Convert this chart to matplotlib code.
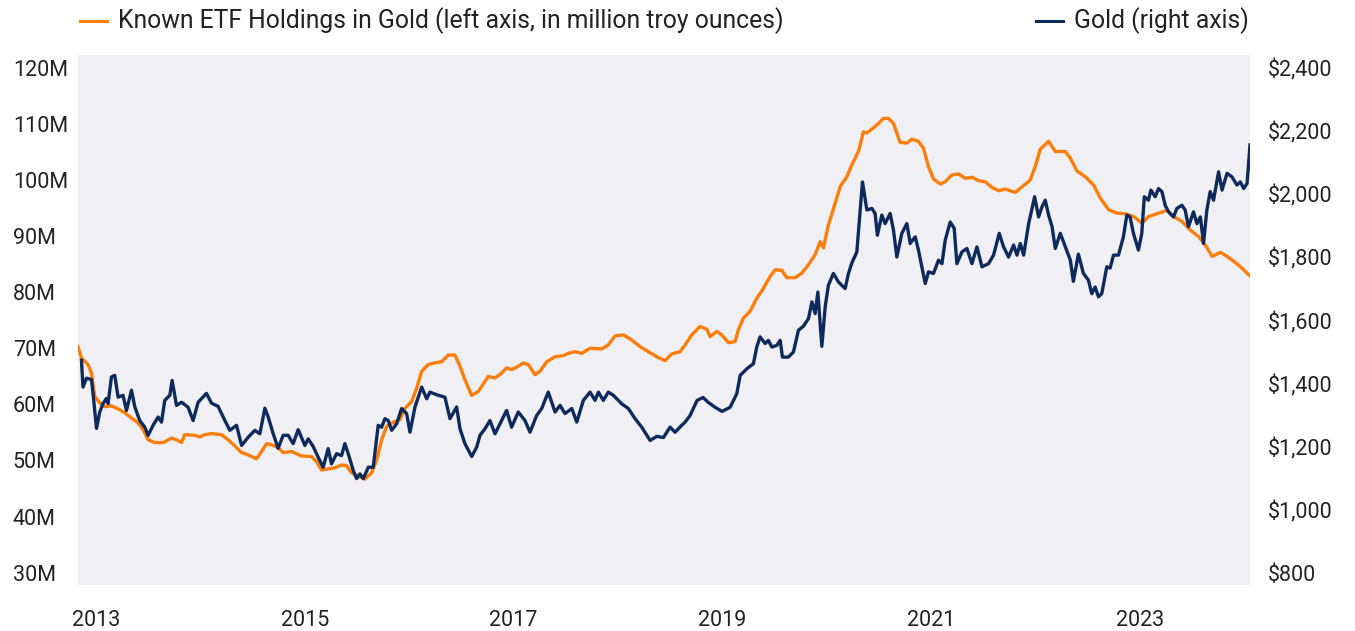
import matplotlib
matplotlib.use("Agg")
import matplotlib.pyplot as plt
from matplotlib.lines import Line2D

plt.rcParams['font.family'] = ['Roboto', 'DejaVu Sans']

# ETF holdings in gold, million troy ounces (left axis), x in years
etf_year = [2012.83, 2012.863, 2012.926, 2012.959, 2012.990, 2013.038, 2013.086, 2013.150, 2013.214,
            2013.278, 2013.342, 2013.405, 2013.453, 2013.501, 2013.565, 2013.645, 2013.725, 2013.773,
            2013.821, 2013.852, 2013.948, 2013.996, 2014.044, 2014.108, 2014.204, 2014.267, 2014.331,
            2014.396, 2014.459, 2014.539, 2014.587, 2014.635, 2014.683, 2014.746, 2014.794, 2014.875,
            2014.970, 2015.066, 2015.114, 2015.162, 2015.225, 2015.289, 2015.353, 2015.401, 2015.449,
            2015.512, 2015.577, 2015.641, 2015.689, 2015.737, 2015.785, 2015.848, 2015.912, 2015.960,
            2016.024, 2016.072, 2016.120, 2016.183, 2016.247, 2016.311, 2016.375, 2016.439, 2016.487,
            2016.534, 2016.599, 2016.662, 2016.758, 2016.822, 2016.886, 2016.933, 2016.981, 2017.045,
            2017.093, 2017.141, 2017.205, 2017.253, 2017.317, 2017.397, 2017.476, 2017.524, 2017.588,
            2017.652, 2017.732, 2017.844, 2017.907, 2017.971, 2018.051, 2018.131, 2018.211, 2018.290,
            2018.371, 2018.450, 2018.514, 2018.594, 2018.642, 2018.706, 2018.785, 2018.850, 2018.881,
            2018.945, 2018.993, 2019.057, 2019.121, 2019.152, 2019.200, 2019.264, 2019.328, 2019.392,
            2019.456, 2019.504, 2019.568, 2019.616, 2019.695, 2019.759, 2019.823, 2019.887, 2019.935,
            2019.967, 2020.014, 2020.079, 2020.126, 2020.190, 2020.238, 2020.302, 2020.349, 2020.382,
            2020.445, 2020.493, 2020.541, 2020.589, 2020.637, 2020.701, 2020.765, 2020.813, 2020.876,
            2020.924, 2020.972, 2021.020, 2021.084, 2021.132, 2021.196, 2021.259, 2021.324, 2021.388,
            2021.451, 2021.515, 2021.579, 2021.643, 2021.707, 2021.803, 2021.867, 2021.946, 2021.994,
            2022.042, 2022.122, 2022.186, 2022.282, 2022.330, 2022.394, 2022.473, 2022.553, 2022.617,
            2022.697, 2022.777, 2022.856, 2022.936, 2023.016, 2023.080, 2023.160, 2023.256, 2023.319,
            2023.400, 2023.479, 2023.559, 2023.623, 2023.687, 2023.766, 2023.831, 2023.910, 2023.990,
            2024.05]
etf_moz = [70.3, 68.3, 67.1, 65.6, 61.4, 60.3, 59.6, 59.75, 59.2,
           58.5, 57.6, 56.7, 55.5, 53.7, 53.2, 53.2, 54.0, 53.7,
           53.2, 54.6, 54.5, 54.2, 54.6, 54.8, 54.6, 53.7, 52.6,
           51.4, 51.0, 50.3, 51.6, 53.0, 52.8, 52.3, 51.4, 51.6,
           50.8, 50.7, 49.8, 48.3, 48.5, 48.7, 49.2, 49.1, 47.8,
           47.2, 46.7, 47.8, 50.1, 53.7, 56.1, 56.8, 57.3, 59.3,
           60.5, 62.9, 65.9, 67.1, 67.4, 67.6, 68.8, 68.8, 66.8,
           64.4, 61.6, 62.3, 65.0, 64.7, 65.6, 66.5, 66.2, 66.8,
           67.4, 67.1, 65.3, 65.9, 67.6, 68.5, 68.7, 69.1, 69.4,
           69.1, 70.0, 69.9, 70.6, 72.2, 72.4, 71.5, 70.3, 69.4,
           68.5, 67.8, 69.0, 69.4, 70.6, 72.4, 73.9, 73.4, 72.1,
           73.0, 72.4, 71.0, 71.2, 73.3, 75.4, 76.6, 78.9, 80.7,
           82.8, 84.0, 83.9, 82.6, 82.6, 83.4, 84.9, 86.7, 89.0,
           87.9, 92.0, 95.9, 98.8, 100.6, 102.7, 105.1, 108.6, 108.4,
           109.3, 110.1, 111.0, 111.0, 110.1, 106.7, 106.6, 107.3, 106.9,
           105.7, 102.4, 100.2, 99.3, 99.7, 100.9, 101.1, 100.3, 100.5,
           99.9, 99.7, 98.7, 98.1, 98.4, 97.8, 98.8, 100.0, 102.4,
           105.5, 106.9, 105.1, 105.1, 103.9, 101.6, 100.6, 99.1, 96.8,
           94.7, 94.1, 94.0, 93.5, 92.3, 93.5, 94.0, 94.6, 93.5,
           92.6, 91.1, 89.9, 88.4, 86.4, 87.1, 86.4, 85.3, 84.0,
           82.9]

# gold price, USD per ounce (right axis)
gold_year = [2012.863, 2012.878, 2012.911, 2012.959, 2012.974, 2013.007, 2013.038, 2013.070, 2013.102,
             2013.118, 2013.150, 2013.182, 2013.214, 2013.261, 2013.294, 2013.342, 2013.374, 2013.421,
             2013.469, 2013.501, 2013.549, 2013.597, 2013.629, 2013.661, 2013.709, 2013.731, 2013.773,
             2013.821, 2013.884, 2013.932, 2013.980, 2014.060, 2014.108, 2014.171, 2014.236, 2014.284,
             2014.348, 2014.396, 2014.459, 2014.523, 2014.571, 2014.619, 2014.651, 2014.698, 2014.746,
             2014.794, 2014.842, 2014.890, 2014.938, 2015.002, 2015.034, 2015.081, 2015.129, 2015.177,
             2015.225, 2015.257, 2015.305, 2015.353, 2015.385, 2015.417, 2015.465, 2015.497, 2015.529,
             2015.561, 2015.609, 2015.656, 2015.704, 2015.737, 2015.768, 2015.800, 2015.833, 2015.881,
             2015.928, 2015.976, 2016.008, 2016.056, 2016.120, 2016.168, 2016.199, 2016.279, 2016.343,
             2016.391, 2016.455, 2016.487, 2016.534, 2016.599, 2016.647, 2016.678, 2016.726, 2016.774,
             2016.822, 2016.870, 2016.933, 2016.981, 2017.045, 2017.109, 2017.157, 2017.221, 2017.269,
             2017.332, 2017.397, 2017.445, 2017.492, 2017.557, 2017.605, 2017.668, 2017.732, 2017.780,
             2017.812, 2017.859, 2017.907, 2017.955, 2018.035, 2018.099, 2018.163, 2018.227, 2018.307,
             2018.371, 2018.434, 2018.498, 2018.546, 2018.610, 2018.642, 2018.690, 2018.757, 2018.815,
             2018.862, 2018.929, 2018.996, 2019.073, 2019.137, 2019.169, 2019.233, 2019.296, 2019.328,
             2019.360, 2019.408, 2019.439, 2019.472, 2019.520, 2019.552, 2019.574, 2019.631, 2019.679,
             2019.727, 2019.775, 2019.823, 2019.856, 2019.887, 2019.913, 2019.951, 2019.983, 2020.014,
             2020.062, 2020.110, 2020.174, 2020.206, 2020.238, 2020.286, 2020.318, 2020.340, 2020.382,
             2020.430, 2020.461, 2020.483, 2020.525, 2020.557, 2020.605, 2020.637, 2020.669, 2020.717,
             2020.765, 2020.797, 2020.845, 2020.876, 2020.909, 2020.941, 2020.972, 2021.020, 2021.068,
             2021.101, 2021.132, 2021.180, 2021.218, 2021.244, 2021.292, 2021.340, 2021.388, 2021.436,
             2021.484, 2021.547, 2021.595, 2021.649, 2021.691, 2021.739, 2021.787, 2021.819, 2021.851,
             2021.883, 2021.931, 2021.988, 2022.026, 2022.059, 2022.090, 2022.122, 2022.155, 2022.186,
             2022.234, 2022.282, 2022.330, 2022.359, 2022.407, 2022.455, 2022.503, 2022.535, 2022.567,
             2022.599, 2022.631, 2022.679, 2022.711, 2022.743, 2022.791, 2022.838, 2022.871, 2022.902,
             2022.934, 2022.982, 2023.014, 2023.038, 2023.078, 2023.101, 2023.142, 2023.174, 2023.207,
             2023.238, 2023.270, 2023.318, 2023.350, 2023.398, 2023.429, 2023.461, 2023.509, 2023.542,
             2023.575, 2023.605, 2023.637, 2023.669, 2023.701, 2023.749, 2023.782, 2023.830, 2023.877,
             2023.925, 2023.958, 2023.990, 2024.022, 2024.05]
gold_usd = [1474, 1389, 1417, 1413, 1369, 1258, 1310, 1337, 1353,
            1337, 1421, 1426, 1357, 1363, 1315, 1379, 1326, 1283,
            1262, 1236, 1268, 1294, 1278, 1347, 1363, 1410, 1331,
            1341, 1325, 1283, 1341, 1369, 1338, 1328, 1283, 1252,
            1268, 1204, 1230, 1252, 1241, 1322, 1294, 1242, 1195,
            1236, 1236, 1210, 1254, 1204, 1225, 1201, 1167, 1135,
            1194, 1146, 1178, 1172, 1210, 1178, 1125, 1099, 1114,
            1099, 1135, 1135, 1268, 1262, 1289, 1283, 1252, 1273,
            1321, 1305, 1246, 1326, 1389, 1352, 1373, 1363, 1357,
            1289, 1326, 1257, 1210, 1169, 1199, 1236, 1257, 1283,
            1241, 1273, 1315, 1262, 1310, 1283, 1246, 1299, 1321,
            1373, 1310, 1331, 1305, 1321, 1278, 1347, 1373, 1347,
            1373, 1347, 1373, 1363, 1336, 1321, 1289, 1262, 1220,
            1233, 1229, 1262, 1246, 1268, 1278, 1299, 1347, 1356,
            1341, 1325, 1312, 1325, 1368, 1426, 1447, 1463, 1516,
            1548, 1527, 1537, 1516, 1521, 1537, 1484, 1484, 1500,
            1569, 1582, 1606, 1659, 1622, 1690, 1518, 1643, 1712,
            1749, 1722, 1701, 1749, 1782, 1817, 1950, 2039, 1950,
            1955, 1939, 1870, 1934, 1907, 1939, 1886, 1801, 1876,
            1907, 1844, 1865, 1823, 1770, 1717, 1754, 1749, 1791,
            1780, 1854, 1912, 1892, 1780, 1817, 1828, 1780, 1833,
            1770, 1780, 1807, 1876, 1833, 1801, 1839, 1807, 1844,
            1807, 1907, 1992, 1928, 1960, 1981, 1934, 1897, 1828,
            1876, 1833, 1791, 1724, 1810, 1749, 1728, 1685, 1706,
            1675, 1685, 1770, 1766, 1807, 1807, 1865, 1934, 1928,
            1876, 1823, 1876, 1992, 1981, 2013, 1992, 2018, 2008,
            1965, 1944, 1928, 1955, 1965, 1950, 1897, 1944, 1907,
            1928, 1844, 1950, 2008, 1981, 2071, 2013, 2066, 2055,
            2029, 2039, 2018, 2034, 2156]

year_ticks = [2013, 2015, 2017, 2019, 2021, 2023]
left_ticks = [30, 40, 50, 60, 70, 80, 90, 100, 110, 120]
right_ticks = [800, 1000, 1200, 1400, 1600, 1800, 2000, 2200, 2400]

orange = '#fb7d0a'
navy = '#0e2a5c'
text_c = '#222222'

fig = plt.figure(figsize=(13.55, 6.31), dpi=100)
ax = fig.add_axes([78 / 1355, 1 - 585 / 631, 1172 / 1355, 530 / 631])
ax.set_facecolor('#f0f0f4')
ax2 = ax.twinx()

ax.plot(etf_year, etf_moz, color=orange, lw=2.4, solid_joinstyle='round')
ax2.plot(gold_year, gold_usd, color=navy, lw=2.4, solid_joinstyle='round')

ax.set_xlim(2012.83, 2024.05)
ax.set_ylim(27.8, 122.3)
ax2.set_ylim(762, 2441)

for a in (ax, ax2):
    for s in a.spines.values():
        s.set_visible(False)
    a.tick_params(length=0, labelsize=15.5, labelcolor=text_c)

ax.set_xticks(year_ticks)
ax.set_xticklabels([str(y) for y in year_ticks])
ax.tick_params(axis='x', pad=18)

ax.set_yticks(left_ticks)
ax.set_yticklabels([f'{v}M' for v in left_ticks])
ax.tick_params(axis='y', pad=47)
for lab in ax.get_yticklabels():
    lab.set_horizontalalignment('left')

ax2.set_yticks(right_ticks)
ax2.set_yticklabels([f'${v:,}' for v in right_ticks])
ax2.tick_params(axis='y', pad=13)

# legend along the top
leg_y = 1 - 20.5 / 631
fig.add_artist(Line2D([80 / 1355, 107 / 1355], [leg_y] * 2, color=orange, lw=2.2,
                      transform=fig.transFigure))
fig.text(118 / 1355, leg_y, 'Known ETF Holdings in Gold (left axis, in million troy ounces)',
         fontsize=17.8, color=text_c, va='center', ha='left')
fig.add_artist(Line2D([1036 / 1355, 1063 / 1355], [leg_y] * 2, color=navy, lw=2.2,
                      transform=fig.transFigure))
fig.text(1074 / 1355, leg_y, 'Gold (right axis)',
         fontsize=17.8, color=text_c, va='center', ha='left')

fig.savefig('out.png', dpi=100)
